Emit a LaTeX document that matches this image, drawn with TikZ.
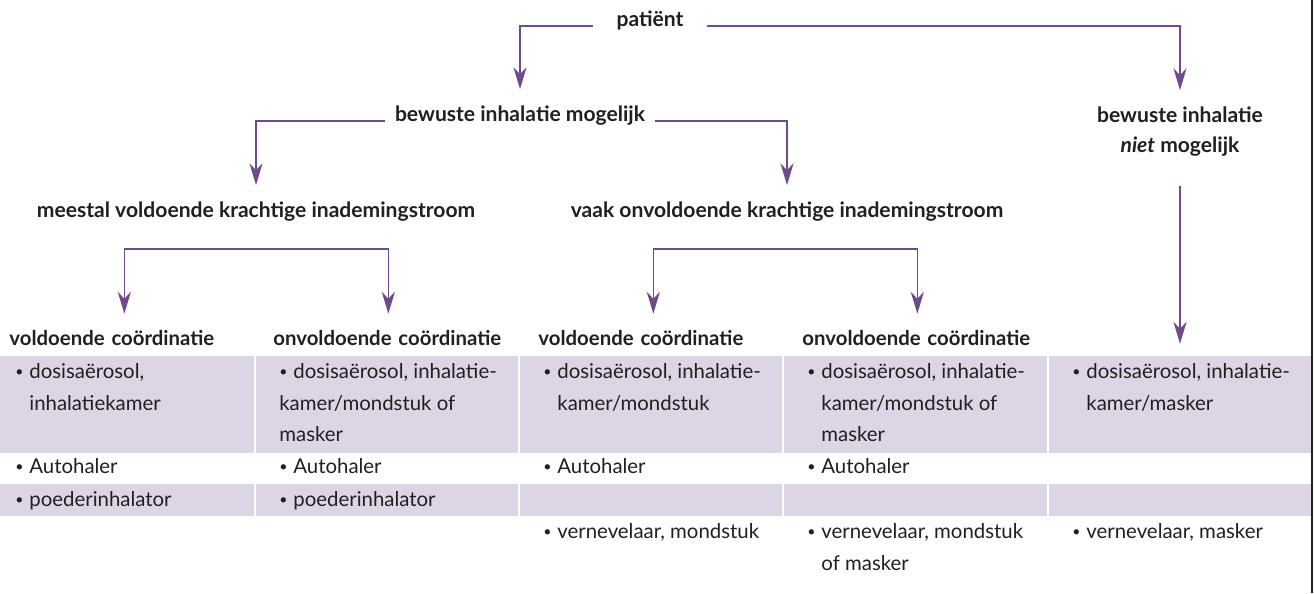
\documentclass[tikz,border=0pt]{standalone}
\usepackage{fontspec}
\setmainfont{Lato}
\usetikzlibrary{arrows.meta}
\definecolor{lila}{RGB}{110,76,140}
\definecolor{band}{RGB}{220,213,229}
\definecolor{ink}{RGB}{35,31,32}
\newlength{\bulw}\setlength{\bulw}{8pt}
\newcommand{\bul}{\strut\makebox[\bulw][l]{\raisebox{0.9pt}{\fontsize{8}{8}\selectfont\textbullet}}}
\newcommand{\ind}{\hspace*{\bulw}}

\begin{document}
\begin{tikzpicture}[x=0.02cm, y=-0.02cm, >={Stealth[length=12.5pt,width=7.5pt,inset=4pt]},
  hd/.style={font=\fontsize{12}{18}\selectfont\bfseries, text=ink, inner ysep=2pt, anchor=base},
  kop/.style={hd, font=\fontsize{11.6}{18}\selectfont\bfseries, anchor=base west, inner xsep=0pt, text width=4.6cm, align=left},
  cell/.style={anchor=north west, inner sep=0pt, align=left, text=ink, font=\fontsize{11.6}{18}\selectfont},
  link/.style={->, draw=lila, line width=0.7pt, shorten >=7pt}]
  \useasboundingbox (0,0) rectangle (1315,593);
  \foreach \a/\b in {0/254, 256/518, 520/782, 784/1047, 1049/1311} {
    \fill[band] (\a,356) rectangle (\b,453);
    \fill[band] (\a,484) rectangle (\b,516);
  }
  \draw[ink, line width=0.9pt] (1312,0) -- (1312,593);

  \node[hd, inner xsep=13pt] (pat) at (650,26) {patiënt};
  \node[hd, inner xsep=5.5pt] (bim) at (520,121) {bewuste inhalatie mogelijk};
  \node[hd] (nim1) at (1180,122) {bewuste inhalatie};
  \node[hd] (nim2) at (1180,152) {\textit{niet} mogelijk};
  \node[hd] (mee) at (256,217) {meestal voldoende krachtige inademingstroom};
  \node[hd] (vaak) at (787,217) {vaak onvoldoende krachtige inademingstroom};
  \coordinate (sp1) at (255,249);
  \coordinate (sp2) at (785,249);

  \node[kop] (k1) at (9,345) {voldoende coördinatie};
  \node[kop] (k2) at (273,345) {onvoldoende coördinatie};
  \node[kop] (k3) at (538,345) {voldoende coördinatie};
  \node[kop] (k4) at (802,345) {onvoldoende coördinatie};

  \node[cell] (c1a) at (15,356) {\bul dosisaërosol,\\\ind inhalatiekamer};
  \node[cell] (c1b) at (15,451) {\bul Autohaler};
  \node[cell] (c1c) at (15,484) {\bul poederinhalator};
  \node[cell] (c2a) at (279,356) {\bul dosisaërosol, inhalatie-\\kamer/mondstuk of\\masker};
  \node[cell] (c2b) at (279,451) {\bul Autohaler};
  \node[cell] (c2c) at (279,484) {\bul poederinhalator};
  \node[cell] (c3a) at (543,356) {\bul dosisaërosol, inhalatie-\\\ind kamer/mondstuk};
  \node[cell] (c3b) at (543,451) {\bul Autohaler};
  \node[cell] (c3d) at (543,516) {\bul vernevelaar, mondstuk};
  \node[cell] (c4a) at (807,356) {\bul dosisaërosol, inhalatie-\\\ind kamer/mondstuk of\\\ind masker};
  \node[cell] (c4b) at (807,451) {\bul Autohaler};
  \node[cell] (c4d) at (807,516) {\bul vernevelaar, mondstuk\\\ind of masker};
  \node[cell] (c5a) at (1072,356) {\bul dosisaërosol, inhalatie-\\\ind kamer/masker};
  \node[cell] (c5d) at (1072,516) {\bul vernevelaar, masker};

  \draw[link] (pat.base west) -| (bim);
  \draw[link] (pat.base east) -| (nim1);
  \draw[link] (bim.base west) -| (mee);
  \draw[link] (bim.base east) -| (vaak);
  \draw[link, shorten <=15pt] (nim2) -- (nim2 |- c5a.north);
  \draw[link] (sp1) -| (k1);
  \draw[link] (sp1) -| (k2);
  \draw[link] (sp2) -| (k3);
  \draw[link] (sp2) -| (k4);
\end{tikzpicture}
\end{document}
